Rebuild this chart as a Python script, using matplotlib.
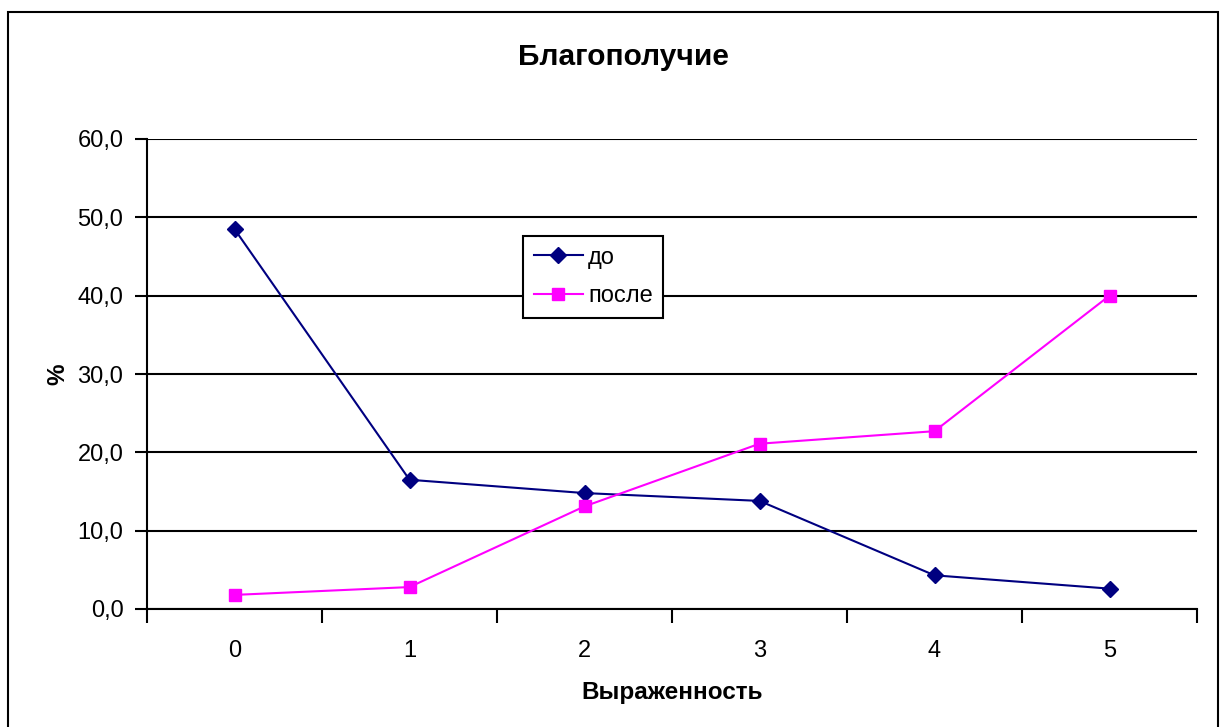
import matplotlib.pyplot as plt
from matplotlib.patches import Rectangle
from matplotlib.ticker import FixedLocator, FuncFormatter

categories = ['0', '1', '2', '3', '4', '5']
do_vals = [48.5, 16.5, 14.8, 13.8, 4.3, 2.6]
posle_vals = [1.8, 2.8, 13.1, 21.1, 22.7, 40.0]
series_names = ['до', 'после']

plt.rcParams['font.family'] = ['Liberation Sans', 'DejaVu Sans']

fig = plt.figure(figsize=(12.26, 7.27), dpi=100)
W, H = 1226, 727
ax = fig.add_axes([147 / W, 1 - 609 / H, (1197 - 147) / W, (609 - 139) / H])

# outer chart border
fig.patches.append(Rectangle((8 / W, -0.01), (1218 - 8) / W, 1 - 12 / H + 0.01,
                             transform=fig.transFigure, fill=False,
                             edgecolor='black', lw=1.5))

x = range(len(categories))
ax.plot(x, do_vals, color='#000080', marker='D', markersize=8, lw=1.5,
        label=series_names[0])
ax.plot(x, posle_vals, color='#FF00FF', marker='s', markersize=8, lw=1.5,
        label=series_names[1])

ax.set_xlim(-0.5, 5.5)
ax.set_ylim(0, 60)
ax.set_yticks(range(0, 61, 10))
ax.yaxis.set_major_formatter(FuncFormatter(lambda v, p: f'{v:.1f}'.replace('.', ',')))
ax.grid(axis='y', color='black', lw=1.5)
ax.set_axisbelow(True)

# category labels at centers, tick marks between categories
ax.set_xticks(list(x))
ax.set_xticklabels(categories)
ax.tick_params(axis='x', which='major', length=0, pad=22, labelsize=17)
ax.xaxis.set_minor_locator(FixedLocator([i - 0.5 for i in range(len(categories) + 1)]))
ax.tick_params(axis='x', which='minor', length=10, width=1.5, direction='out')
ax.tick_params(axis='y', length=9, width=1.5, direction='out', labelsize=17, pad=8)

for s in ['top', 'right']:
    ax.spines[s].set_visible(False)
for s in ['left', 'bottom']:
    ax.spines[s].set_linewidth(1.5)

ax.set_xlabel('Выраженность', fontsize=17.5, fontweight='bold', labelpad=14)
ax.set_ylabel('%', fontsize=17.5, fontweight='bold', labelpad=6)
fig.text(623 / W, 1 - 57 / H, 'Благополучие', ha='center', va='center',
         fontsize=21.5, fontweight='bold')

leg = ax.legend(loc='upper left', bbox_to_anchor=((523 - 147) / 1050, (609 - 236) / 470),
                frameon=True, fancybox=False, edgecolor='black', fontsize=17,
                handlelength=2.1, borderpad=0.45, labelspacing=0.7, handletextpad=0.2,
                borderaxespad=0)
leg.get_frame().set_linewidth(1.5)
leg.get_frame().set_alpha(1)

fig.savefig('out.png', dpi=100)
